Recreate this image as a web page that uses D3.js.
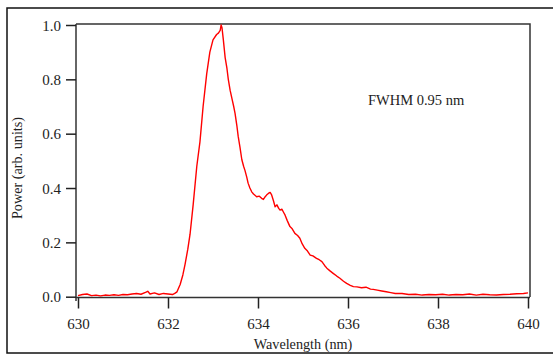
<!DOCTYPE html>
<html>
<head>
<meta charset="utf-8">
<script src="https://cdn.jsdelivr.net/npm/d3@7"></script>
<style>
  body { margin: 0; background: #fff; }
  text { font-family: "Liberation Serif", "Times New Roman", serif; fill: #222; }
</style>
</head>
<body>
<svg width="553" height="356"></svg>
<script>
// wavelength (nm) and power (arb. units)
let wavelength = [630.0, 630.1, 630.2, 630.3, 630.4, 630.5, 630.6, 630.7, 630.8, 630.9,
  631.0, 631.1, 631.2, 631.3, 631.4, 631.5, 631.55, 631.6, 631.7, 631.8, 631.9,
  632.0, 632.1, 632.15, 632.2, 632.27, 632.33, 632.38, 632.44, 632.49, 632.56,
  632.64, 632.71, 632.78, 632.86, 632.93, 633.0, 633.08, 633.12, 633.16, 633.18,
  633.2, 633.23, 633.27, 633.31, 633.34, 633.38, 633.42, 633.46, 633.49, 633.53,
  633.56, 633.6, 633.64, 633.68, 633.71, 633.75, 633.78, 633.82, 633.86, 633.9,
  633.97, 634.03, 634.08, 634.12, 634.16, 634.19, 634.23, 634.27, 634.3, 634.34,
  634.38, 634.42, 634.46, 634.49, 634.53, 634.57, 634.6, 634.65, 634.71, 634.76,
  634.82, 634.88, 634.93, 634.98, 635.04, 635.1, 635.16, 635.22, 635.3, 635.36,
  635.42, 635.48, 635.53, 635.6, 635.67, 635.75, 635.82, 635.9, 635.97, 636.05,
  636.12, 636.2, 636.3, 636.4, 636.5, 636.56, 636.65, 636.75, 636.85, 636.95,
  637.05, 637.2, 637.35, 637.5, 637.65, 637.8, 637.95, 638.1, 638.25, 638.4,
  638.55, 638.7, 638.85, 639.0, 639.15, 639.3, 639.45, 639.6, 639.75, 639.9, 640.0];

let power = [0.004, 0.008, 0.010, 0.004, 0.006, 0.003, 0.006, 0.005, 0.007, 0.005,
  0.008, 0.007, 0.010, 0.012, 0.009, 0.016, 0.020, 0.010, 0.014, 0.008, 0.012,
  0.010, 0.008, 0.012, 0.018, 0.045, 0.080, 0.12, 0.175, 0.23, 0.34,
  0.48, 0.57, 0.70, 0.82, 0.90, 0.945, 0.965, 0.97, 0.98, 1.0,
  0.99, 0.945, 0.88, 0.84, 0.80, 0.76, 0.73, 0.70, 0.675, 0.63,
  0.59, 0.55, 0.505, 0.48, 0.465, 0.44, 0.418, 0.40, 0.386, 0.378,
  0.368, 0.37, 0.362, 0.358, 0.368, 0.374, 0.38, 0.384, 0.376, 0.355,
  0.331, 0.338, 0.325, 0.319, 0.322, 0.31, 0.301, 0.28, 0.258, 0.25,
  0.233, 0.225, 0.215, 0.195, 0.178, 0.168, 0.153, 0.15, 0.141, 0.136,
  0.129, 0.115, 0.105, 0.095, 0.086, 0.076, 0.068, 0.057, 0.049, 0.042,
  0.037, 0.036, 0.033, 0.035, 0.028, 0.027, 0.024, 0.021, 0.018, 0.015,
  0.012, 0.012, 0.008, 0.009, 0.006, 0.008, 0.007, 0.009, 0.006, 0.008,
  0.007, 0.010, 0.006, 0.009, 0.007, 0.006, 0.008, 0.009, 0.011, 0.012, 0.014];

let xTicks = [630, 632, 634, 636, 638, 640];
let yTicks = [0.0, 0.2, 0.4, 0.6, 0.8, 1.0];
let annotation = "FWHM 0.95 nm";

let svg = d3.select("svg");

let x = d3.scaleLinear().domain([630, 640]).range([78, 528]),
    y = d3.scaleLinear().domain([0, 1]).range([296.7, 25]);

let data = wavelength.map((w, i) => ({w: w, p: power[i]}));

// outer frame
svg.append("rect")
    .attr("x", 7).attr("y", 8)
    .attr("width", 560).attr("height", 345)
    .attr("fill", "none").attr("stroke", "#111").attr("stroke-width", 1.5);

// plot box (top and right)
svg.append("path")
    .attr("d", "M76,24H530V297")
    .attr("fill", "none").attr("stroke", "#333").attr("stroke-width", 1.5);

// x axis
let xAxis = svg.append("g")
    .attr("transform", "translate(0,297.5)")
    .call(d3.axisBottom(x).tickValues(xTicks).tickFormat(d3.format("d")).tickSize(11).tickSizeOuter(0));
xAxis.select(".domain").attr("d", "M76,0H530").attr("stroke", "#333").attr("stroke-width", 1.5);
xAxis.selectAll(".tick line").attr("stroke", "#222").attr("stroke-width", 1.5);
xAxis.selectAll(".tick text").attr("dy", 0).attr("y", 31)
    .style("font-size", "15px").style("font-family", "Liberation Serif");

// y axis
let yAxis = svg.append("g")
    .attr("transform", "translate(76,0)")
    .call(d3.axisLeft(y).tickValues(yTicks).tickFormat(d3.format(".1f")).tickSize(10).tickSizeOuter(0));
yAxis.select(".domain").attr("d", "M0,24V301").attr("stroke", "#333").attr("stroke-width", 1.5);
yAxis.selectAll(".tick line").attr("stroke", "#222").attr("stroke-width", 1.5);
yAxis.selectAll(".tick text").attr("x", -15).attr("dy", "0.34em")
    .style("font-size", "15px").style("font-family", "Liberation Serif");

// curve
let line = d3.line().x((d) => x(d.w)).y((d) => y(d.p));
svg.append("path")
    .datum(data)
    .attr("d", line)
    .attr("fill", "none")
    .attr("stroke", "#ff0000")
    .attr("stroke-width", 1.4)
    .attr("stroke-linejoin", "round");

// labels
svg.append("text")
    .attr("x", 303).attr("y", 349)
    .attr("text-anchor", "middle")
    .style("font-size", "14.2px")
    .text("Wavelength (nm)");

svg.append("text")
    .attr("transform", "translate(22,168) rotate(-90)")
    .attr("text-anchor", "middle")
    .style("font-size", "14.2px")
    .text("Power (arb. units)");

svg.append("text")
    .attr("x", 368).attr("y", 105)
    .style("font-size", "14.5px")
    .text(annotation);
</script>
</body>
</html>
